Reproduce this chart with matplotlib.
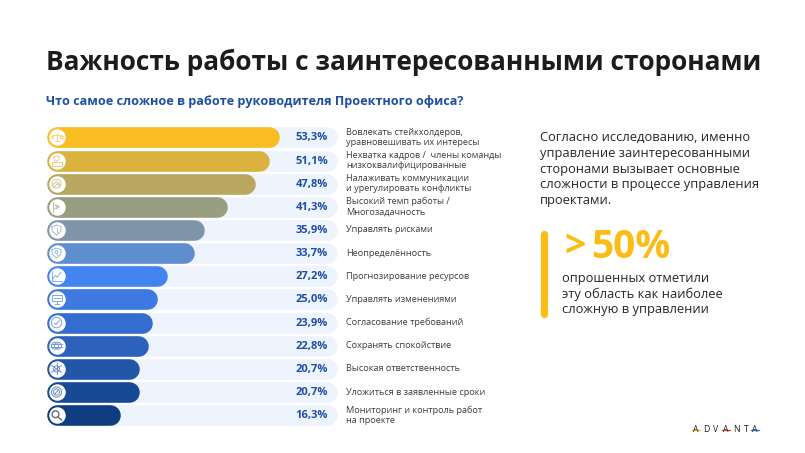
import matplotlib.pyplot as plt
from matplotlib.patches import Circle
from matplotlib.colors import to_rgb

plt.rcParams['font.family'] = ['Open Sans', 'DejaVu Sans']

W, H = 805, 453

labels = [
    'Вовлекать стейкхолдеров,\nуравновешивать их интересы',
    'Нехватка кадров /  члены команды\nнизкоквалифицированные',
    'Налаживать коммуникации\nи урегулировать конфликты',
    'Высокий темп работы /\nМногозадачность',
    'Управлять рисками',
    'Неопределённость',
    'Прогнозирование ресурсов',
    'Управлять изменениями',
    'Согласование требований',
    'Сохранять спокойствие',
    'Высокая ответственность',
    'Уложиться в заявленные сроки',
    'Мониторинг и контроль работ\nна проекте',
]
values = [53.3, 51.1, 47.8, 41.3, 35.9, 33.7, 27.2, 25.0, 23.9, 22.8, 20.7, 20.7, 16.3]
colors = ['#F9BC21', '#DBB23E', '#B9A760', '#9A9E80', '#7F95AA', '#5F8ECE', '#4285F0',
          '#3D79E0', '#336DCF', '#2C62BC', '#2257A8', '#174A94', '#0F3D80']

title = 'Важность работы с заинтересованными сторонами'
subtitle = 'Что самое сложное в работе руководителя Проектного офиса?'
side_text = 'Согласно исследованию, именно\nуправление заинтересованными\nсторонами вызывает основные\nсложности в процессе управления\nпроектами.'
big_sign = '>'
big_number = '50%'
big_text = 'опрошенных отметили\nэту область как наиболее\nсложную в управлении'

fig = plt.figure(figsize=(W / 100, H / 100), dpi=100, facecolor='white')

# overlay in pixels for text and decoration
bg = fig.add_axes([0, 0, 1, 1])
bg.set_xlim(0, W)
bg.set_ylim(H, 0)
bg.axis('off')

# chart axes: one percent is 4.3 px, the round cap adds the rest
left_px, right_px = 40, 340
top_px, bottom_px = 126, 426.5
ax = fig.add_axes([left_px / W, 1 - bottom_px / H, (right_px - left_px) / W, (bottom_px - top_px) / H])
ax.set_xlim(0, (right_px - left_px) / 4.3)
pitch = 23.15
ax.set_ylim((bottom_px - 137.4) / pitch, (top_px - 137.4) / pitch)
ax.axis('off')
ax.patch.set_alpha(0)

bar_lw = 20.6 * 72 / 100
start = 16.5 / 4.3
track_end = (326.5 - left_px) / 4.3
ys = list(range(len(values)))

ax.hlines(ys, start, track_end, colors='#EEF4FE', linewidth=bar_lw, capstyle='round', zorder=1)
for y, v, c in zip(ys, values, colors):
    ax.hlines(y, start, v - 0.1, colors=c, linewidth=bar_lw, capstyle='round', zorder=2)
    ax.scatter(start, y, s=(16.5 * 0.72) ** 2, color='white', linewidths=0, zorder=3)
    ax.text((328 - left_px) / 4.3, y + 0.02, f'{v:.1f}%'.replace('.', ','), ha='right', va='center',
            fontsize=8, fontweight='bold', color='#1F4FA3', zorder=4)
    ax.text((346 - left_px) / 4.3, y, labels[y], ha='left', va='center', fontsize=6.6,
            color='#3C3C3C', linespacing=1.2, zorder=4)

# small line icons on the white circles, pixels relative to the circle centre
icon_cx = 56.5


def pale(c, t=0.35):
    r, g, b = to_rgb(c)
    return (r + (1 - r) * t, g + (1 - g) * t, b + (1 - b) * t)


def icon(i):
    cy = 137.4 + pitch * i
    c = pale(colors[i])
    kw = dict(color=c, lw=0.7, zorder=6)

    def line(xs, yy):
        bg2.plot([icon_cx + x for x in xs], [cy + y for y in yy], **kw)

    def ring(r, dx=0, dy=0):
        bg2.add_patch(Circle((icon_cx + dx, cy + dy), r, fill=False, ec=kw['color'], lw=kw['lw'], zorder=6))

    if i == 0:  # scales
        line([-5, 5], [-2.5, -2.5])
        line([0, 0], [-4, 4])
        line([-2, 2], [4, 4])
        line([-6, -3.5, -3.5, -6], [1, 1, -1, -1])
        line([6, 3.5, 3.5, 6], [1, 1, -1, -1])
    elif i == 1:  # person
        ring(2.6, 0, -2.2)
        line([-5, -5, 5, 5, -5], [5, 1.5, 1.5, 5, 5])
    elif i == 2:  # handshake
        ring(4.4)
        line([-4, 0, 4], [1.5, -2, 1.5])
        line([-2, 1, 3], [3, 0, 3])
    elif i == 3:  # bar and arrows
        line([-4, -4], [-5, 5])
        line([-2, 1, -2], [-2, 0, 2])
        line([0, 3, 0], [-2, 0, 2])
    elif i in (4, 5):  # shield
        line([-4.5, 0, 4.5, 4.5, 0, -4.5, -4.5], [-3.5, -5, -3.5, 1, 5, 1, -3.5])
        line([0, 0], [-2, 2] if i == 4 else [0.5, 2])
        if i == 5:
            ring(1.4, 0, -1.2)
    elif i == 6:  # chart
        line([-5, -5, 5], [-5, 5, 5])
        line([-3.5, -1, 0.5, 4.5], [2.5, -1, 1, -4])
    elif i == 7:  # board
        line([-5, 5, 5, -5, -5], [-4.5, -4.5, 1.5, 1.5, -4.5])
        line([0, 0], [1.5, 5])
        line([-2, 2], [5, 5])
        line([-3, 3], [-1.5, -1.5])
    elif i == 8:  # check circle
        ring(5.2)
        line([-2, -0.5, 2.5], [0.5, 2, -2])
    elif i == 9:  # stacked rings
        ring(3.5, -1.5, 0)
        ring(3.5, 1.5, 0)
        line([-5.5, 5.5], [-1.5, -1.5])
        line([-5.5, 5.5], [1.5, 1.5])
    elif i == 10:  # asterisk shape
        ring(3)
        for a, b in [(-5, 5), (5, -5)]:
            line([a, b], [-3.5, 3.5])
        line([0, 0], [-5.5, 5.5])
    elif i == 11:  # stopwatch
        ring(5)
        ring(3)
        line([-1.5, 1.5], [1.5, -1.5])
    else:  # magnifier
        kw.update(color='#666C78', lw=1)
        ring(3.4, -1, -1)
        line([1.5, 5], [1.5, 5])


bg2 = fig.add_axes([0, 0, 1, 1])
bg2.set_xlim(0, W)
bg2.set_ylim(H, 0)
bg2.axis('off')
bg2.patch.set_alpha(0)
for i in ys:
    icon(i)

bg.text(46, 62, title, ha='left', va='center', fontsize=18.95, fontweight='bold', color='#1C1C1C')
bg.text(46, 102, subtitle, ha='left', va='center', fontsize=9.1, fontweight='bold', color='#1F4FA3')

bg.text(540, 169, side_text, ha='left', va='center', fontsize=9.3, color='#262626', linespacing=1.26)

bg.plot([543.5, 543.5], [234, 314], color='#FBBC15', lw=5.2, solid_capstyle='round')
bg.text(564, 247, big_sign, ha='left', va='center', fontsize=27, fontweight='bold', color='#FBBC15')
bg.text(591, 247, big_number, ha='left', va='center', fontsize=28, fontweight='bold', color='#FBBC15')
bg.text(562, 294, big_text, ha='left', va='center', fontsize=9.3, color='#262626', linespacing=1.26)

# logo
logo_x = [695.7, 706.7, 716, 725.7, 736.7, 746.7, 755]
logo_colors = ['#F9BC21', None, None, '#E2443A', None, None, '#2F6FE0']
for x, ch, c in zip(logo_x, 'ADVANTA', logo_colors):
    bg.text(x, 429, ch, ha='center', va='center', fontsize=6.2, color='#1C1C1C')
    if c:
        bg.plot([x - 4, x + 4], [430.3, 430.3], color=c, lw=0.9)

fig.savefig('out.png', dpi=100)
